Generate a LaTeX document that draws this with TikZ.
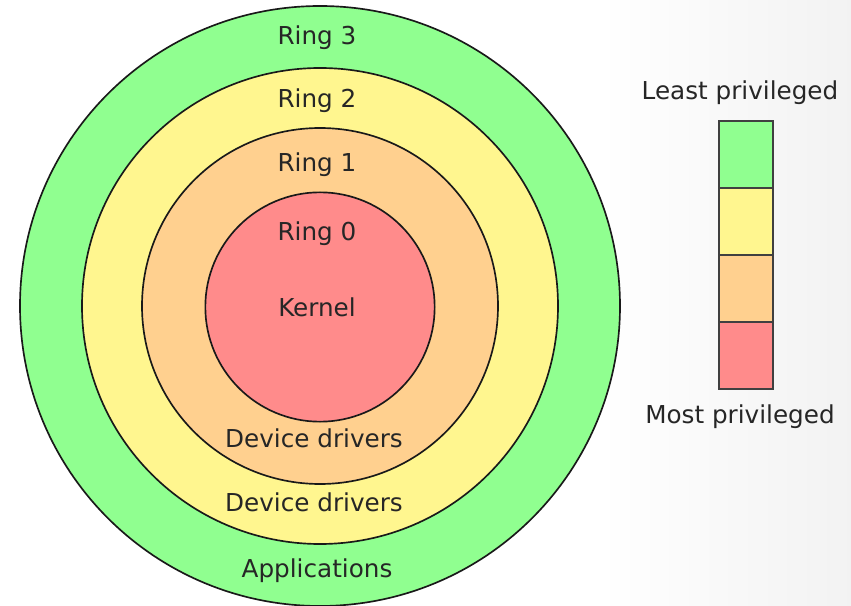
\documentclass[tikz,border=0pt]{standalone}
\usepackage{fontspec}
\setmainfont{DejaVu Sans}
\usepackage{tikz}
\usetikzlibrary{positioning, shapes, backgrounds}
\definecolor{ringgreen}{RGB}{144,255,144}
\definecolor{ringyellow}{RGB}{255,246,143}
\definecolor{ringorange}{RGB}{255,208,143}
\definecolor{ringred}{RGB}{255,139,139}
\tikzstyle{ring} = [circle, draw=black!90, line width=1.25pt, inner sep=0pt, outer sep=0pt]
\tikzstyle{level} = [rectangle, draw=black!75, line width=1.5pt, minimum width=40.5pt, minimum height=50.25pt, inner sep=0pt, outer sep=0pt]
\tikzstyle{label} = [anchor=base, text=black!85, font=\fontsize{18.5}{22}\selectfont]

\begin{document}
\begin{tikzpicture}[x=0.75pt, y=-0.75pt, node distance=0pt]
                \useasboundingbox (0,0) rectangle (851,606);
                \shade[left color=white, right color=black!5] (600,0) rectangle (851,606);
                % rings, outermost first
                \node (ring3) [ring, fill=ringgreen, minimum size=450pt] at (320,306) {};
                \node (ring2) [ring, fill=ringyellow, minimum size=357pt] at (320,306) {};
                \node (ring1) [ring, fill=ringorange, minimum size=267pt] at (320,306) {};
                \node (ring0) [ring, fill=ringred, minimum size=172pt] at (320,307) {};

                \node (lring3) [label] at (317,45) {Ring 3};
                \node (lring2) [label] at (317,108) {Ring 2};
                \node (lring1) [label] at (317,172) {Ring 1};
                \node (lring0) [label] at (317,241) {Ring 0};
                \node (kernel) [label] at (317,317) {Kernel};
                \node (drivers1) [label] at (314,448) {Device drivers};
                \node (drivers2) [label] at (314,512) {Device drivers};
                \node (apps) [label] at (317,577) {Applications};

                % privilege scale
                \node (least) [label] at (740,100) {Least privileged};
                \node (lvl3) [level, fill=ringgreen] at (746,155) {};
                \node (lvl2) [level, fill=ringyellow, below=of lvl3] {};
                \node (lvl1) [level, fill=ringorange, below=of lvl2] {};
                \node (lvl0) [level, fill=ringred, below=of lvl1] {};
                \node (most) [label] at (740,423) {Most privileged};
\end{tikzpicture}
\end{document}
